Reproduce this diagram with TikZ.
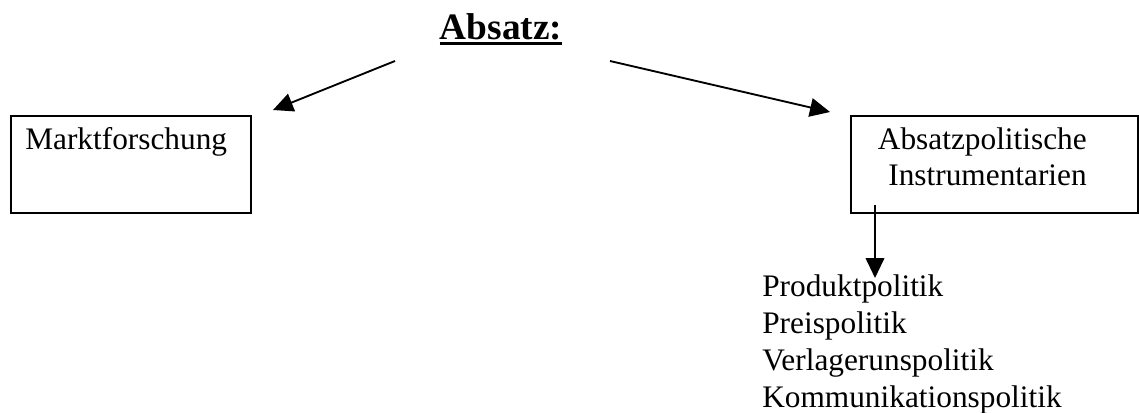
\documentclass[tikz,border=0pt]{standalone}
\usepackage{fontspec}
\setmainfont{Liberation Serif}
\usetikzlibrary{arrows.meta}
\tikzset{
  txt/.style={inner sep=0pt, font=\fontsize{23.5}{28}\selectfont},
  ttl/.style={inner sep=0pt, font=\fontsize{28}{32}\selectfont\bfseries},
  box/.style={draw, line width=1.3pt, inner sep=0pt},
  arr/.style={line width=1.4pt, -{Triangle[length=15pt,width=14pt]}},
}
\begin{document}
\begin{tikzpicture}[x=0.75pt,y=-0.75pt]
\useasboundingbox (0,0) rectangle (1139,412);
% title
\node[ttl, anchor=base] (title) at (501,39) {Absatz:};
\draw[line width=2.2pt] ([yshift=-3.3pt]title.base west) -- ([yshift=-3.3pt]title.base east);
% boxes
\node[box, minimum width=240*0.75pt, minimum height=97*0.75pt, anchor=north west] (mbox) at (10,115) {};
\node[txt, anchor=base west] (mtext) at (25,149) {Marktforschung};
\node[box, minimum width=287*0.75pt, minimum height=97*0.75pt, anchor=north west] (abox) at (850,115) {};
\node[txt, anchor=base east] (a1) at (1087,149) {Absatzpolitische};
\node[txt, anchor=base east] (a2) at (1087,185) {Instrumentarien};
% list
\node[txt, anchor=base west] (p1) at (762,296) {Produktpolitik};
\node[txt, anchor=base west] (p2) at (762,333) {Preispolitik};
\node[txt, anchor=base west] (p3) at (762,370) {Verlagerunspolitik};
\node[txt, anchor=base west] (p4) at (762,407) {Kommunikationspolitik};
% arrow ends
\coordinate (s1) at (395,61);
\coordinate (e1) at (273,110);
\coordinate (s2) at (610,61);
\coordinate (e2) at (830,112);
\coordinate (s3) at (875,205);
\coordinate (e3) at (875,278);
\draw[arr] (s1) -- (e1);
\draw[arr] (s2) -- (e2);
\draw[arr] (s3) -- (e3);
\end{tikzpicture}
\end{document}
